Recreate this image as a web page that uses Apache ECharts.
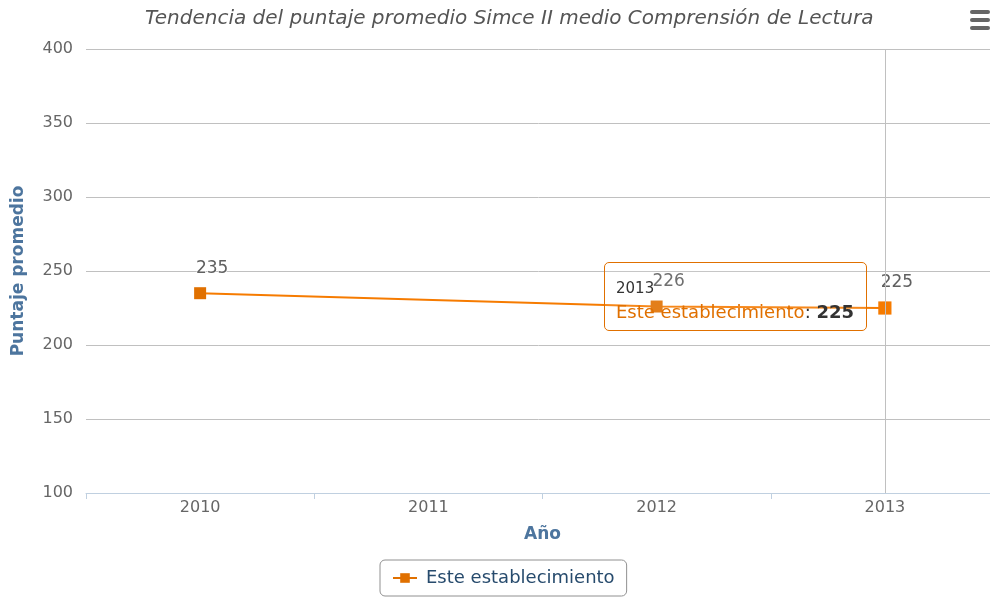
<!DOCTYPE html>
<html>
<head>
<meta charset="utf-8">
<script src="https://cdn.jsdelivr.net/npm/echarts@6/dist/echarts.min.js"></script>
<style>
  html, body { margin: 0; padding: 0; background: #fff; }
  #main { width: 990px; height: 597px; }
</style>
</head>
<body>
<div id="main"></div>
<script>
// datos del grafico
var years = ['2010', '2011', '2012', '2013'];
var puntajes = [235, null, 226, 225];   // 2011 sin dato
var yTicks = [100, 150, 200, 250, 300, 350, 400];
var serieName = 'Este establecimiento';
var tipIndex = 3;   // tooltip fijo en 2013

var orange = '#e07000';
var font = 'DejaVu Sans';
var chart = echarts.init(document.getElementById('main'));

var option = {
    animation: false,
    textStyle: { fontFamily: font },
    title: {
        text: 'Tendencia del puntaje promedio Simce II medio Comprensión de Lectura',
        left: 140,
        top: 4,
        textStyle: { fontSize: 20, fontStyle: 'italic', fontWeight: 'normal', color: '#555', fontFamily: font }
    },
    grid: { left: 86, right: -9, top: 49, bottom: 104, containLabel: false, outerBoundsMode: 'none' },
    tooltip: {
        trigger: 'axis',
        triggerOn: 'none',
        alwaysShowContent: true,
        transitionDuration: 0,
        position: [604, 262],
        backgroundColor: 'rgba(255,255,255,0.1)',
        borderColor: orange,
        borderWidth: 1,
        padding: [15, 11, 4, 11],
        extraCssText: 'width:263px;height:69px;box-sizing:border-box;border-radius:5px;box-shadow:none;',
        axisPointer: {
            type: 'line',
            lineStyle: { color: '#c0c0c0', width: 1, type: 'solid' },
            label: { show: false }
        },
        formatter: function (params) {
            var p = params[0];
            return '<div style="font-family:DejaVu Sans;font-size:15px;color:#333;line-height:20px">' + p.name + '</div>' +
                '<div style="font-family:DejaVu Sans;font-size:18px;line-height:28px;color:#333;white-space:nowrap">' +
                '<span style="color:' + orange + '">' + p.seriesName + '</span>: <b>' + p.value + '</b></div>';
        }
    },
    legend: {
        left: 380,
        top: 560,
        padding: [9, 12, 9, 12],
        borderColor: '#909090',
        borderWidth: 1,
        borderRadius: 5,
        itemWidth: 24,
        itemHeight: 12,
        textStyle: { fontSize: 18, color: '#274b6d', fontFamily: font, padding: [0, 0, 0, 4] },
        data: [serieName]
    },
    xAxis: {
        type: 'category',
        data: years,
        boundaryGap: true,
        axisLine: { lineStyle: { color: '#c0d0e0' } },
        axisTick: { show: true, length: 6, lineStyle: { color: '#c0d0e0' } },
        axisLabel: { fontSize: 16, color: '#666', margin: 7, fontFamily: font },
        name: 'Año',
        nameLocation: 'middle',
        nameGap: 33,
        nameTextStyle: { fontSize: 17, fontWeight: 'bold', color: '#4d759e', fontFamily: font }
    },
    yAxis: {
        type: 'value',
        min: yTicks[0],
        max: yTicks[yTicks.length - 1],
        interval: yTicks[1] - yTicks[0],
        axisLine: { show: false },
        axisTick: { show: false },
        splitLine: { lineStyle: { color: '#c0c0c0' } },
        axisLabel: { fontSize: 16, color: '#666', margin: 13, fontFamily: font },
        name: 'Puntaje promedio',
        nameLocation: 'middle',
        nameRotate: 90,
        nameGap: 59,
        nameTextStyle: { fontSize: 17, fontWeight: 'bold', color: '#4d759e', fontFamily: font }
    },
    series: [{
        name: serieName,
        type: 'line',
        data: puntajes,
        connectNulls: true,
        symbol: 'rect',
        symbolSize: 12,
        itemStyle: { color: orange },
        lineStyle: { color: orange, width: 2 },
        label: {
            show: true,
            position: 'top',
            distance: 5,
            offset: [12, -5],
            fontSize: 17,
            color: '#606060',
            fontFamily: font,
            textBorderColor: '#fff',
            textBorderWidth: 1
        }
    }],
    graphic: [
        { type: 'rect', shape: { x: 970, y: 10, width: 20, height: 4, r: 2 }, style: { fill: '#666' } },
        { type: 'rect', shape: { x: 970, y: 18, width: 20, height: 4, r: 2 }, style: { fill: '#666' } },
        { type: 'rect', shape: { x: 970, y: 26, width: 20, height: 4, r: 2 }, style: { fill: '#666' } }
    ]
};

chart.setOption(option);
chart.dispatchAction({ type: 'showTip', seriesIndex: 0, dataIndex: tipIndex });
</script>
</body>
</html>
